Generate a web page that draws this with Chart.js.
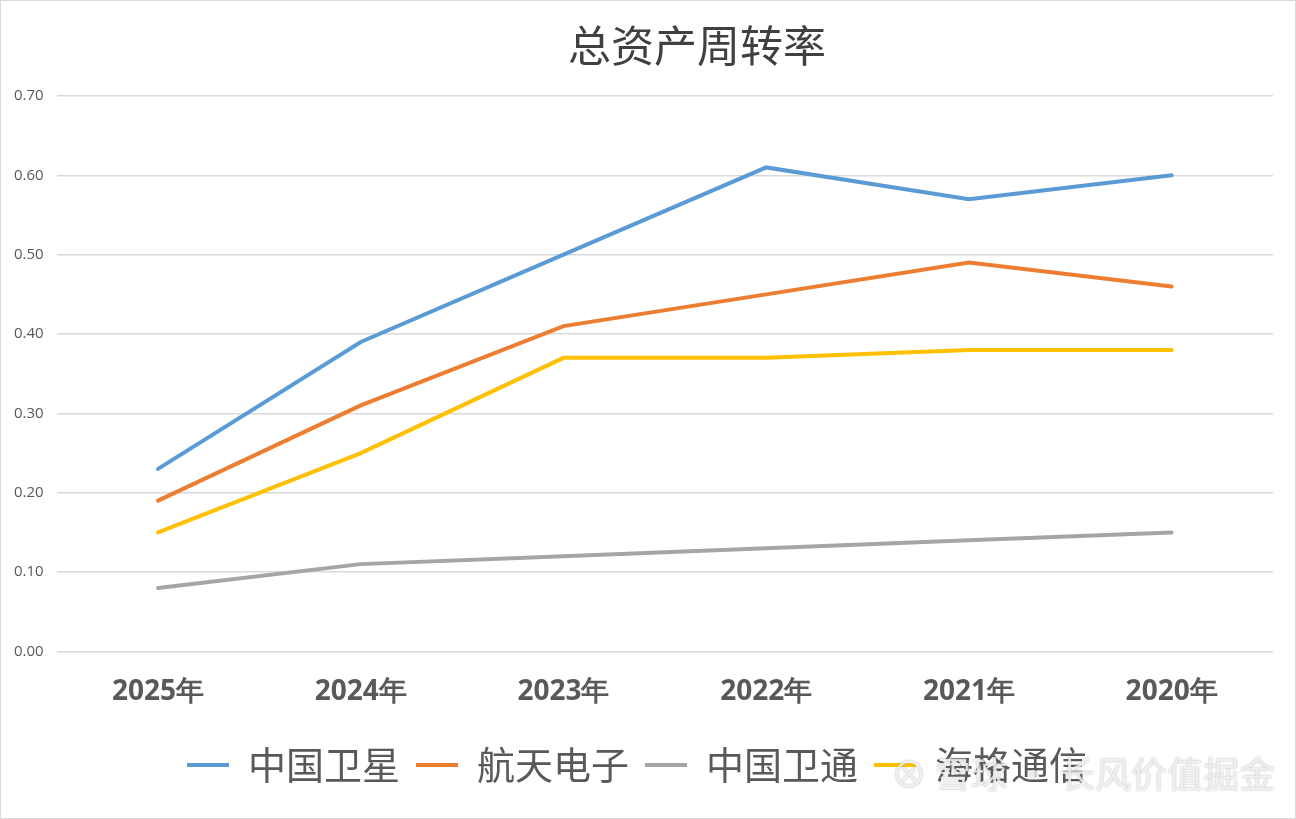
<!DOCTYPE html>
<html lang="zh">
<head>
    <meta charset="UTF-8">
    <title>总资产周转率</title>
    <script src="https://cdn.jsdelivr.net/npm/chart.js"></script>
    <style>
        html, body { margin: 0; padding: 0; background: #fff; }
        #wrap { position: relative; width: 1296px; height: 819px; box-sizing: border-box; border: 1px solid #d9d9d9; }
        #watermark {
            position: absolute; left: 890px; top: 745px;
            font: 36px "Noto Sans CJK SC"; color: rgba(255,255,255,0.75);
            text-shadow: 0 0 2px rgba(120,120,120,0.6);
            pointer-events: none;
        }
    </style>
</head>
<body>
<div id="wrap">
    <canvas id="turnoverChart" width="1294" height="817"></canvas>
    <div id="watermark">⊗ 雪球 · 长风价值掘金</div>
</div>
<script>
    // 数据
    const years = ["2025年", "2024年", "2023年", "2022年", "2021年", "2020年"];
    const zgwx = [0.23, 0.39, 0.50, 0.61, 0.57, 0.60];   // 中国卫星
    const htdz = [0.19, 0.31, 0.41, 0.45, 0.49, 0.46];   // 航天电子
    const zgwt = [0.08, 0.11, 0.12, 0.13, 0.14, 0.15];   // 中国卫通
    const hgtx = [0.15, 0.25, 0.37, 0.37, 0.38, 0.38];   // 海格通信
    const yTicks = [0, 0.1, 0.2, 0.3, 0.4, 0.5, 0.6, 0.7];
    const titleText = "总资产周转率";

    function line(label, data, color) {
        return {
            label: label,
            data: data,
            borderColor: color,
            backgroundColor: color,
            borderWidth: 4,
            borderCapStyle: "round",
            pointRadius: 0,
            tension: 0
        };
    }

    // 标题略偏右，和原图一致
    const titlePlugin = {
        id: "offsetTitle",
        afterDraw(chart) {
            const c = chart.ctx;
            c.save();
            c.font = '43px "Noto Sans CJK SC"';
            c.fillStyle = "#404040";
            c.textAlign = "center";
            c.textBaseline = "middle";
            c.fillText(titleText, 696, 45);
            c.restore();
        }
    };

    const ctx = document.getElementById("turnoverChart").getContext("2d");
    new Chart(ctx, {
        type: "line",
        data: {
            labels: years,
            datasets: [
                line("中国卫星", zgwx, "#5B9BD5"),
                line("航天电子", htdz, "#ED7D31"),
                line("中国卫通", zgwt, "#A5A5A5"),
                line("海格通信", hgtx, "#FFC000")
            ]
        },
        options: {
            responsive: false,
            animation: false,
            layout: { padding: { left: 0, right: 22, top: 95, bottom: 24 } },
            plugins: {
                title: { display: false },
                legend: {
                    position: "bottom",
                    labels: {
                        usePointStyle: true,
                        pointStyle: "line",
                        pointStyleWidth: 42,
                        color: "#595959",
                        font: { family: "Noto Sans CJK SC", size: 38 },
                        padding: 16
                    }
                },
                tooltip: { enabled: false }
            },
            scales: {
                x: {
                    offset: true,
                    grid: { display: false },
                    border: { display: false },
                    ticks: {
                        color: "#595959",
                        font: { family: "Open Sans", size: 28, weight: "bold" },
                        padding: 16
                    },
                    afterFit: axis => { axis.height += 5; }
                },
                y: {
                    min: 0,
                    max: 0.7,
                    afterBuildTicks: axis => { axis.ticks = yTicks.map(v => ({ value: v })); },
                    grid: { color: "#D9D9D9", lineWidth: 1.5, drawTicks: false },
                    border: { display: false },
                    ticks: {
                        color: "#595959",
                        font: { family: "Open Sans", size: 15 },
                        padding: 13,
                        callback: v => v.toFixed(2)
                    }
                }
            }
        },
        plugins: [titlePlugin]
    });
</script>
</body>
</html>
